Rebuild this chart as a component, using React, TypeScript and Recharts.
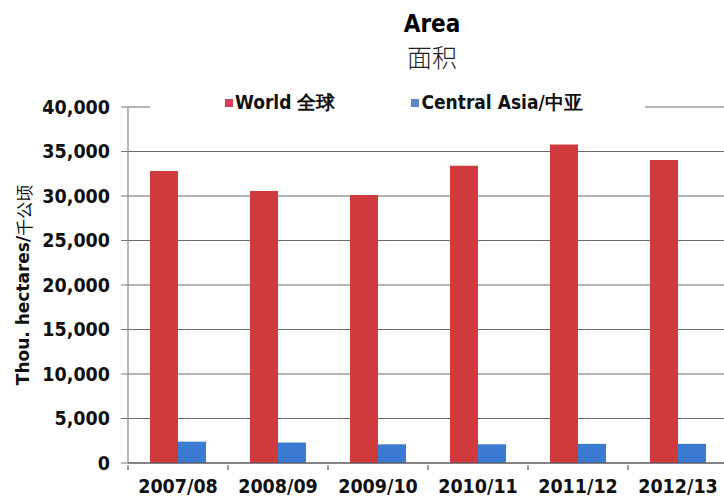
import { BarChart, Bar, XAxis, YAxis, CartesianGrid, Legend, Label } from "recharts";

const seasons = ["2007/08", "2008/09", "2009/10", "2010/11", "2011/12", "2012/13"];
const worldArea = [32800, 30550, 30100, 33400, 35800, 34050];
const centralAsiaArea = [2400, 2300, 2100, 2100, 2150, 2150];
const yTicks = [0, 5000, 10000, 15000, 20000, 25000, 30000, 35000, 40000];

const COLORS = {
  world: "#cf3a3c",
  centralAsia: "#3b7bd2",
  worldKey: "#d53d5c",
  centralAsiaKey: "#5b89c0",
  grid: "#6b6b6b",
};

const seriesKeys = ["world", "centralAsia"];
const seriesNames = ["World 全球", "Central Asia/中亚"];
const keyColors = [COLORS.worldKey, COLORS.centralAsiaKey];

const data = seasons.map((s, i) => ({
  season: s,
  world: worldArea[i],
  centralAsia: centralAsiaArea[i],
}));

const tickFont = '"DejaVu Sans Condensed", "DejaVu Sans", sans-serif';
const legendFont = '"Liberation Sans Narrow", "DejaVu Sans Condensed", sans-serif';

const fmt = (v: number) => String(v).replace(/\B(?=(\d{3})+(?!\d))/g, ",");

function SeasonTick(props: any) {
  const { x, y, payload } = props;
  const half = payload?.offset ?? 50;
  return (
    <g>
      <line x1={x - half} y1={y} x2={x - half} y2={y + 5} stroke="#666" strokeWidth={1.2} />
      <text
        x={x}
        y={y + 28}
        textAnchor="middle"
        fontFamily={tickFont}
        fontWeight={700}
        fontSize={19.5}
        fill="#111"
      >
        {payload.value}
      </text>
    </g>
  );
}

function YTitle(props: any) {
  const vb = props.viewBox || { x: 0, y: 107, width: 128, height: 356 };
  const cx = vb.x + 23;
  const cy = vb.y + vb.height / 2;
  return (
    <text
      x={cx}
      y={cy}
      transform={`rotate(-90 ${cx} ${cy})`}
      textAnchor="middle"
      dominantBaseline="central"
      fontFamily='"DejaVu Sans", "Noto Sans CJK SC", sans-serif'
      fontWeight={700}
      fontSize={17}
      fill="#111"
    >
      Thou. hectares/
      <tspan fontFamily='"Noto Sans CJK SC"' fontWeight={400} fontSize={17}>
        千公顷
      </tspan>
    </text>
  );
}

function KeyBox() {
  return (
    <div
      style={{
        display: "flex",
        alignItems: "center",
        height: "100%",
        paddingLeft: 75,
        gap: 76,
        background: "#fff",
        fontFamily: legendFont,
        fontWeight: 700,
        fontSize: 19,
        color: "#111",
      }}
    >
      {seriesKeys.map((k, i) => (
        <div key={k} style={{ display: "flex", alignItems: "center", whiteSpace: "nowrap" }}>
          <span style={{ width: 8, height: 8, marginRight: 2, background: keyColors[i] }} />
          {seriesNames[i]}
        </div>
      ))}
    </div>
  );
}

export default function App() {
  return (
    <div
      style={{
        position: "absolute",
        left: 0,
        top: 0,
        width: 724,
        height: 497,
        overflow: "hidden",
        background: "#fff",
      }}
    >
      <div
        style={{
          position: "absolute",
          left: 332,
          width: 200,
          top: 10,
          textAlign: "center",
          fontFamily: tickFont,
          fontWeight: 900,
          fontSize: 24,
          lineHeight: "28px",
          color: "#000",
        }}
      >
        Area
      </div>
      <div
        style={{
          position: "absolute",
          left: 332,
          width: 200,
          top: 40,
          textAlign: "center",
          fontFamily: '"Noto Sans CJK SC", sans-serif',
          fontWeight: 300,
          fontSize: 25,
          lineHeight: "32px",
          color: "#222",
        }}
      >
        面积
      </div>
      <BarChart
        width={740}
        height={497}
        data={data}
        margin={{ top: 107, right: 12, bottom: 0, left: 0 }}
        barCategoryGap="22%"
        barGap={0}
      >
        <CartesianGrid vertical={false} stroke={COLORS.grid} strokeWidth={1.2} />
        <XAxis
          dataKey="season"
          height={34}
          tickSize={0}
          tickLine={false}
          interval={0}
          tick={<SeasonTick />}
          axisLine={{ stroke: "#555", strokeWidth: 1.2 }}
        />
        <YAxis
          width={128}
          domain={[0, 40000]}
          ticks={yTicks}
          interval={0}
          tickFormatter={fmt}
          tickSize={7}
          tickMargin={11}
          tickLine={{ stroke: "#777" }}
          axisLine={{ stroke: "#888", strokeWidth: 1.2 }}
          tick={{ fontFamily: tickFont, fontWeight: 700, fontSize: 19.5, fill: "#111" }}
        >
          <Label content={<YTitle />} />
        </YAxis>
        <Legend
          layout="horizontal"
          verticalAlign="middle"
          align="center"
          content={<KeyBox />}
          wrapperStyle={{ top: 90, left: 150, width: 495, height: 26 }}
        />
        <Bar dataKey="world" fill={COLORS.world} isAnimationActive={false} />
        <Bar dataKey="centralAsia" fill={COLORS.centralAsia} isAnimationActive={false} />
      </BarChart>
    </div>
  );
}
